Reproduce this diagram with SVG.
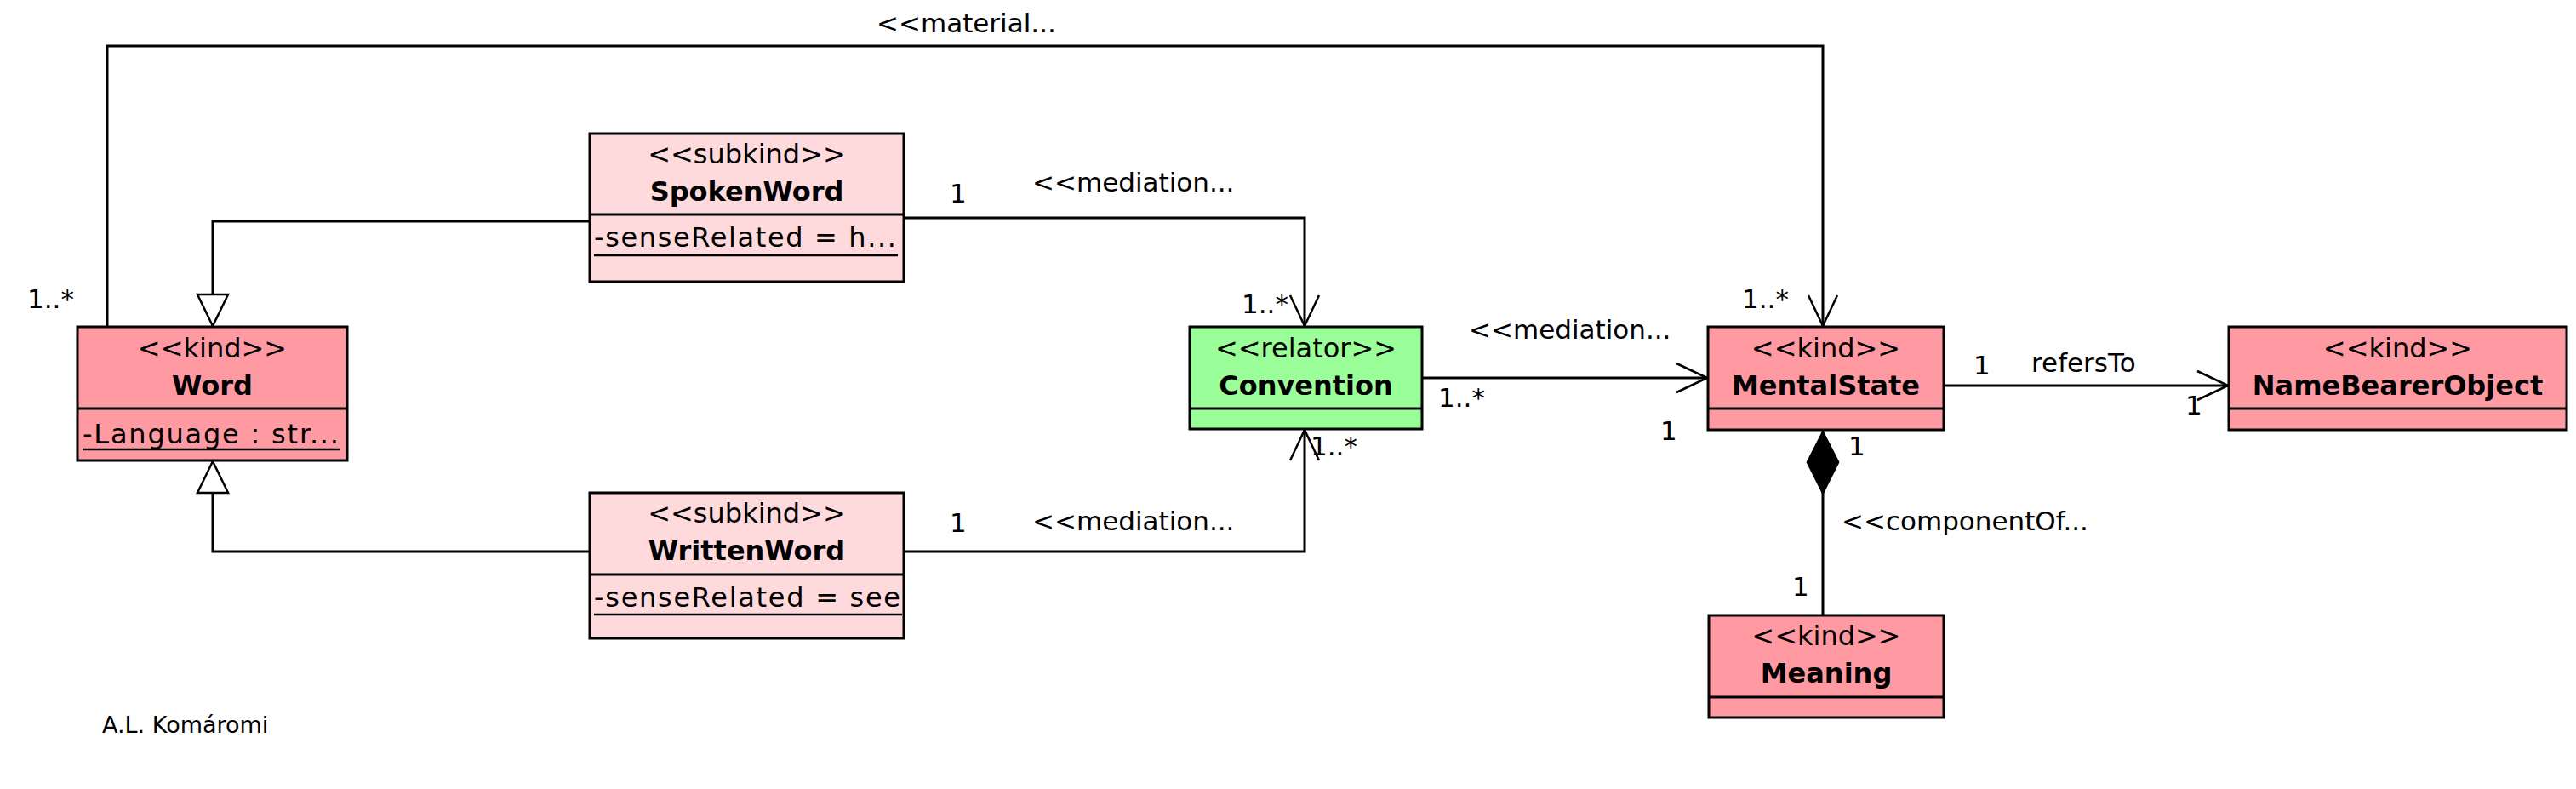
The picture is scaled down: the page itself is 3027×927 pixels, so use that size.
<svg xmlns="http://www.w3.org/2000/svg" width="3027" height="927" viewBox="0 0 3027 927">
<style>
text{font-family:"DejaVu Sans","Liberation Sans",sans-serif;fill:#000}
.st{font-size:32px;text-anchor:middle}
.nm{font-size:32px;font-weight:bold;text-anchor:middle}
.at{font-size:32px}
.lb{font-size:31px}
.ft{font-size:27px}
.box{stroke:#000;stroke-width:3}
.kind{fill:#FF9AA2}
.sub{fill:#FFDADD}
.rel{fill:#9BFF99}
.div{stroke:#000;stroke-width:3}
.ul{stroke:#000;stroke-width:2.5}
.cn{fill:none;stroke:#000;stroke-width:3}
</style>
<defs>
<marker id="open" markerUnits="userSpaceOnUse" viewBox="0 0 40 40" markerWidth="40" markerHeight="40" refX="38" refY="20" orient="auto">
<path d="M2,3 L38,20 L2,37" fill="none" stroke="#000" stroke-width="2.5"/>
</marker>
<marker id="gen" markerUnits="userSpaceOnUse" viewBox="0 0 42 42" markerWidth="42" markerHeight="42" refX="39" refY="21" orient="auto">
<path d="M2,3 L39,21 L2,39 Z" fill="#fff" stroke="#000" stroke-width="2.5"/>
</marker>
<marker id="dia" markerUnits="userSpaceOnUse" viewBox="0 0 80 42" markerWidth="80" markerHeight="42" refX="1" refY="21" orient="auto">
<path d="M1,21 L38,2 L76,21 L38,40 Z" fill="#000" stroke="#000" stroke-width="1"/>
</marker>
</defs>
<rect width="3027" height="927" fill="#fff"/>

<g id="connectors">
<!-- material: Word -> MentalState -->
<polyline class="cn" points="126,384 126,54 2142,54 2142,383" marker-end="url(#open)"/>
<text class="lb" x="1030" y="38">&lt;&lt;material...</text>
<text class="lb" x="32" y="362">1..*</text>
<text class="lb" x="2047" y="362">1..*</text>
<!-- generalizations -->
<polyline class="cn" points="693,260 250,260 250,383" marker-end="url(#gen)"/>
<polyline class="cn" points="693,648 250,648 250,542" marker-end="url(#gen)"/>
<!-- mediation SpokenWord -> Convention -->
<polyline class="cn" points="1062,256 1533,256 1533,383" marker-end="url(#open)"/>
<text class="lb" x="1116" y="238">1</text>
<text class="lb" x="1213" y="225">&lt;&lt;mediation...</text>
<text class="lb" x="1459" y="368">1..*</text>
<!-- mediation WrittenWord -> Convention -->
<polyline class="cn" points="1062,648 1533,648 1533,505" marker-end="url(#open)"/>
<text class="lb" x="1116" y="625">1</text>
<text class="lb" x="1213" y="623">&lt;&lt;mediation...</text>
<text class="lb" x="1540" y="535">1..*</text>
<!-- mediation Convention -> MentalState -->
<line class="cn" x1="1671" y1="444" x2="2006" y2="444" marker-end="url(#open)"/>
<text class="lb" x="1726" y="398">&lt;&lt;mediation...</text>
<text class="lb" x="1690" y="478">1..*</text>
<text class="lb" x="1951" y="517">1</text>
<!-- refersTo -->
<line class="cn" x1="2284" y1="453" x2="2618" y2="453" marker-end="url(#open)"/>
<text class="lb" x="2319" y="440">1</text>
<text class="lb" x="2387" y="437">refersTo</text>
<text class="lb" x="2568" y="487">1</text>
<!-- componentOf -->
<line class="cn" x1="2142" y1="506" x2="2142" y2="723" marker-start="url(#dia)"/>
<text class="lb" x="2172" y="535">1</text>
<text class="lb" x="2164" y="623">&lt;&lt;componentOf...</text>
<text class="lb" x="2106" y="700">1</text>
</g>

<g id="Word">
<rect class="box kind" x="91" y="384" width="317" height="157"/>
<line class="div" x1="91" y1="480" x2="408" y2="480"/>
<text class="st" x="249.5" y="420">&lt;&lt;kind&gt;&gt;</text>
<text class="nm" x="249.5" y="464">Word</text>
<text class="at" x="97" y="521" textLength="301" lengthAdjust="spacing">-Language : str...</text>
<line class="ul" x1="97" y1="528" x2="400" y2="528"/>
</g>

<g id="SpokenWord">
<rect class="box sub" x="693" y="157" width="369" height="174"/>
<line class="div" x1="693" y1="252" x2="1062" y2="252"/>
<text class="st" x="877.5" y="192">&lt;&lt;subkind&gt;&gt;</text>
<text class="nm" x="877.5" y="236">SpokenWord</text>
<text class="at" x="698" y="290" textLength="355" lengthAdjust="spacing">-senseRelated = h...</text>
<line class="ul" x1="698" y1="300" x2="1055" y2="300"/>
</g>

<g id="WrittenWord">
<rect class="box sub" x="693" y="579" width="369" height="171"/>
<line class="div" x1="693" y1="675" x2="1062" y2="675"/>
<text class="st" x="877.5" y="614">&lt;&lt;subkind&gt;&gt;</text>
<text class="nm" x="877.5" y="658">WrittenWord</text>
<text class="at" x="698" y="713" textLength="360" lengthAdjust="spacing">-senseRelated = see</text>
<line class="ul" x1="698" y1="722" x2="1060" y2="722"/>
</g>

<g id="Convention">
<rect class="box rel" x="1398" y="384" width="273" height="120"/>
<line class="div" x1="1398" y1="480" x2="1671" y2="480"/>
<text class="st" x="1534.5" y="420">&lt;&lt;relator&gt;&gt;</text>
<text class="nm" x="1534.5" y="464">Convention</text>
</g>

<g id="MentalState">
<rect class="box kind" x="2007" y="384" width="277" height="121"/>
<line class="div" x1="2007" y1="480" x2="2284" y2="480"/>
<text class="st" x="2145.5" y="420">&lt;&lt;kind&gt;&gt;</text>
<text class="nm" x="2145.5" y="464">MentalState</text>
</g>

<g id="NameBearerObject">
<rect class="box kind" x="2619" y="384" width="397" height="121"/>
<line class="div" x1="2619" y1="480" x2="3016" y2="480"/>
<text class="st" x="2817.5" y="420">&lt;&lt;kind&gt;&gt;</text>
<text class="nm" x="2817.5" y="464">NameBearerObject</text>
</g>

<g id="Meaning">
<rect class="box kind" x="2008" y="723" width="276" height="120"/>
<line class="div" x1="2008" y1="819" x2="2284" y2="819"/>
<text class="st" x="2146" y="758">&lt;&lt;kind&gt;&gt;</text>
<text class="nm" x="2146" y="802">Meaning</text>
</g>

<text class="ft" x="120" y="861">A.L. Komáromi</text>
</svg>
